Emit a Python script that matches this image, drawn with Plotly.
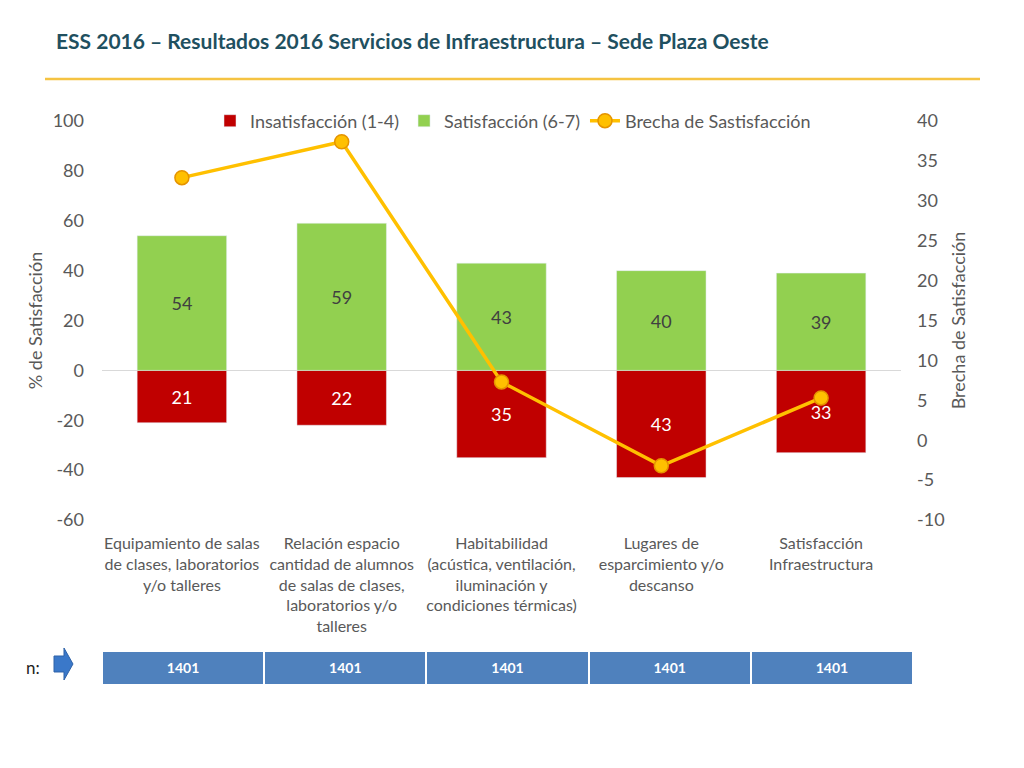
import plotly.graph_objects as go

categorias = [
    "Equipamiento de salas<br>de clases, laboratorios<br>y/o talleres",
    "Relación espacio<br>cantidad de alumnos<br>de salas de clases,<br>laboratorios y/o<br>talleres",
    "Habitabilidad<br>(acústica, ventilación,<br>iluminación y<br>condiciones térmicas)",
    "Lugares de<br>esparcimiento y/o<br>descanso",
    "Satisfacción<br>Infraestructura",
]
insatisfaccion = [21, 22, 35, 43, 33]
satisfaccion = [54, 59, 43, 40, 39]
brecha = [32.9, 37.4, 7.3, -3.2, 5.3]
n_casos = [1401, 1401, 1401, 1401, 1401]
ticks_y = [-60, -40, -20, 0, 20, 40, 60, 80, 100]
ticks_y2 = [-10, -5, 0, 5, 10, 15, 20, 25, 30, 35, 40]

FONT = "Lato"
GRIS = "#595959"
W, H = 1016, 760
OFF = 8  # la pagina deja 8px de margen


def px(x):
    return (x - OFF) / W


def py(y):
    return 1 - (y - OFF) / H


fig = go.Figure()

fig.add_trace(go.Bar(
    x=categorias, y=[-v for v in insatisfaccion], name="Insatisfacción (1-4)",
    marker_color="#C00000", width=0.56,
    text=insatisfaccion, textposition="inside", insidetextanchor="middle",
    textfont=dict(color="white", size=18, family=FONT),
))
fig.add_trace(go.Bar(
    x=categorias, y=satisfaccion, name="Satisfacción (6-7)",
    marker_color="#92D050", width=0.56,
    text=satisfaccion, textposition="inside", insidetextanchor="middle",
    textfont=dict(color="#404040", size=18, family=FONT),
))
fig.add_trace(go.Scatter(
    x=categorias, y=brecha, name="Brecha de Sastisfacción", yaxis="y2",
    mode="lines+markers",
    line=dict(color="#FFC000", width=3.5),
    marker=dict(size=14, color="#FFC000", line=dict(color="#E59400", width=1.5)),
))

# tabla de n
fig.add_trace(go.Table(
    domain=dict(x=[px(102), px(914)], y=[py(686), py(651)]),
    columnwidth=[1] * len(n_casos),
    header=dict(
        values=["<b>%d</b>" % v for v in n_casos],
        fill_color="#4F81BD", line=dict(color="white", width=2),
        font=dict(color="white", size=14, family=FONT), align="center", height=34,
    ),
    cells=dict(values=[[] for _ in n_casos]),
))

fig.update_layout(
    width=W, height=H,
    margin=dict(l=0, r=0, t=0, b=0),
    paper_bgcolor="white", plot_bgcolor="white",
    barmode="relative",
    font=dict(family=FONT, color=GRIS, size=16),
    showlegend=True,
    legend=dict(orientation="h", x=px(210), xanchor="left", y=py(121), yanchor="middle",
                font=dict(size=18, color=GRIS), bgcolor="rgba(0,0,0,0)",
                traceorder="normal", itemwidth=30),
    xaxis=dict(domain=[px(102), px(901)], showgrid=False, showline=False, ticks="",
               automargin=False, ticklabelstandoff=12,
               tickfont=dict(size=16, color=GRIS)),
    yaxis=dict(domain=[py(520), py(121)], range=[-60, 100], showgrid=False,
               tickvals=ticks_y, ticktext=[str(v) for v in ticks_y],
               zeroline=True, zerolinecolor="#D9D9D9", zerolinewidth=1, automargin=False,
               title=dict(text="% de Satisfacción", font=dict(size=18, color=GRIS), standoff=5),
               tickfont=dict(size=18, color=GRIS), ticklabelstandoff=17),
    yaxis2=dict(range=[-10, 40], overlaying="y", side="right", showgrid=False,
                tickvals=ticks_y2, ticktext=[str(v) for v in ticks_y2],
                zeroline=False, automargin=False, ticklabelstandoff=15,
                title=dict(text="Brecha de Satisfacción", font=dict(size=18, color=GRIS), standoff=8),
                tickfont=dict(size=18, color=GRIS)),
    shapes=[
        dict(type="line", xref="paper", yref="paper",
             x0=px(45), x1=px(980), y0=py(79), y1=py(79),
             line=dict(color="#F5C342", width=2.5)),
        # flecha
        dict(type="path", xref="paper", yref="paper",
             path="M %f %f L %f %f L %f %f L %f %f L %f %f L %f %f L %f %f Z" % (
                 px(54), py(656), px(64), py(656), px(64), py(648), px(73), py(664),
                 px(64), py(680), px(64), py(672), px(54), py(672)),
             fillcolor="#3A78C9", line=dict(color="#2E62A8", width=1)),
    ],
    annotations=[
        dict(text="<b>ESS 2016 – Resultados 2016 Servicios de Infraestructura – Sede Plaza Oeste</b>",
             xref="paper", yref="paper", x=px(54), y=py(40),
             xanchor="left", yanchor="middle", showarrow=False,
             font=dict(size=21, color="#1F5060", family=FONT)),
        dict(text="n:", xref="paper", yref="paper", x=px(24), y=py(667),
             xanchor="left", yanchor="middle", showarrow=False,
             font=dict(size=17, color="#222222", family=FONT)),
    ],
)

fig.write_html("out.html")
